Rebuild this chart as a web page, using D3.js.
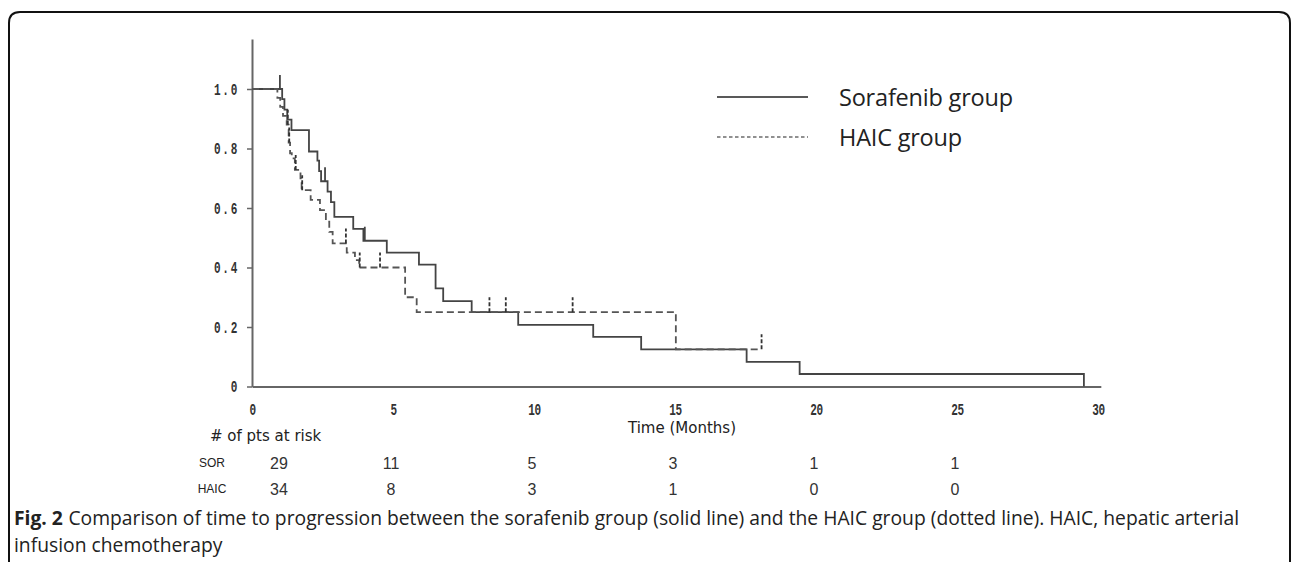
<!DOCTYPE html>
<html><head><meta charset="utf-8">
<script src="https://cdn.jsdelivr.net/npm/d3@7"></script>
<style>body{margin:0;background:#fff} svg{display:block}</style>
</head><body>
<svg id="c" width="1293" height="565"></svg>
<script>
// ---- data ----
const sorTimes = [0, 1.07, 1.15, 1.25, 1.40, 2.02, 2.32, 2.38, 2.45, 2.68, 2.80, 2.92, 3.59, 3.95, 4.78, 5.92, 6.51, 6.78, 7.79, 9.44, 12.1, 13.8, 17.54, 19.42, 29.5];
const sorSurv  = [1.0, 0.966, 0.931, 0.897, 0.862, 0.79, 0.759, 0.724, 0.69, 0.655, 0.62, 0.57, 0.53, 0.49, 0.45, 0.41, 0.33, 0.287, 0.25, 0.207, 0.167, 0.125, 0.083, 0.042, 0];
const sorEnd = 29.5;
const sorCensor = [0.99, 2.59, 4.0];

const haicTimes = [0, 0.90, 1.00, 1.10, 1.23, 1.30, 1.35, 1.41, 1.52, 1.72, 1.76, 2.08, 2.41, 2.62, 2.74, 2.86, 3.36, 3.65, 3.80, 5.43, 5.84, 15.03];
const haicSurv  = [1.0, 0.97, 0.94, 0.91, 0.88, 0.82, 0.784, 0.767, 0.728, 0.70, 0.66, 0.627, 0.593, 0.554, 0.52, 0.481, 0.45, 0.425, 0.40, 0.30, 0.25, 0.125];
const haicEnd = 18.07;
const haicCensor = [1.27, 1.32, 1.55, 1.78, 3.33, 3.82, 4.54, 8.42, 9.0, 11.37, 18.07];

const xTicks = [0, 5, 10, 15, 20, 25, 30];
const yTicks = [0, 0.2, 0.4, 0.6, 0.8, 1.0];
const riskTimes = [0, 5, 10, 15, 20, 25];
const riskSOR  = [29, 11, 5, 3, 1, 1];
const riskHAIC = [34, 8, 3, 1, 0, 0];
const legendLabels = ["Sorafenib group", "HAIC group"];
const xTitle = "Time (Months)";
const riskTitle = "# of pts at risk";
const captionBold = "Fig. 2";
const captionLine1 = "Comparison of time to progression between the sorafenib group (solid line) and the HAIC group (dotted line). HAIC, hepatic arterial";
const captionLine2 = "infusion chemotherapy";

// ---- layout ----
const svg = d3.select("#c");
const x = d3.scaleLinear().domain([0, 30]).range([252, 1098]);
const y = d3.scaleLinear().domain([0, 1]).range([386.5, 89]);
const yTop = 1.168, xEnd = 30.1;
const tickFont = "'Liberation Mono','DejaVu Sans Mono',monospace";
const sx = 0.85, sy = 1.3;

// figure border (open at bottom)
svg.append("path")
  .attr("d", "M9,562 V23 Q9,12 20,12 H1279 Q1290,12 1290,23 V562")
  .attr("fill", "none").attr("stroke", "#111").attr("stroke-width", 2);

// axes
const yAxisScale = d3.scaleLinear().domain([0, yTop]).range([y(0), y(yTop)]);
const gy = svg.append("g").attr("transform", `translate(${x(0)},0)`)
  .call(d3.axisLeft(yAxisScale).tickValues(yTicks).tickSize(5).tickSizeOuter(0).tickPadding(8)
    .tickFormat(d => d === 0 ? "0" : d3.format(".1f")(d)));
gy.select(".domain").attr("stroke", "#666").attr("stroke-width", 2);
gy.selectAll(".tick line").attr("stroke", "#666").attr("stroke-width", 1.5);
gy.selectAll(".tick text").attr("font-family", tickFont).attr("font-weight", "bold")
  .attr("font-size", 13).attr("fill", "#333").attr("letter-spacing", 2)
  .attr("x", -13 / sx).attr("dy", "0.3em").attr("transform", `scale(${sx},${sy})`);

const xAxisScale = d3.scaleLinear().domain([0, xEnd]).range([x(0), x(xEnd)]);
const gx = svg.append("g").attr("transform", `translate(0,${y(0)})`)
  .call(d3.axisBottom(xAxisScale).tickValues(xTicks).tickSize(0).tickSizeOuter(0));
gx.select(".domain").attr("stroke", "#666").attr("stroke-width", 2);
gx.selectAll(".tick text").attr("font-family", tickFont).attr("font-weight", "bold")
  .attr("font-size", 13).attr("fill", "#333").attr("letter-spacing", -0.5)
  .attr("y", 12.8).attr("transform", `scale(${sx},${sy})`);

// step curves
function stepPoints(times, surv, end) {
  const pts = [];
  for (let i = 0; i < times.length; i++) {
    if (i > 0) pts.push([times[i], surv[i - 1]]);
    pts.push([times[i], surv[i]]);
  }
  const last = surv[surv.length - 1];
  if (end > times[times.length - 1]) pts.push([end, last]);
  return pts;
}
function survAt(times, surv, t) {
  let s = surv[0];
  for (let i = 0; i < times.length; i++) if (times[i] <= t) s = surv[i];
  return s;
}
const line = d3.line().x(d => x(d[0])).y(d => y(d[1]));

svg.append("path").datum(stepPoints(sorTimes, sorSurv, sorEnd))
  .attr("d", line).attr("fill", "none").attr("stroke", "#444").attr("stroke-width", 1.8);
svg.append("path").datum(stepPoints(haicTimes, haicSurv, haicEnd))
  .attr("d", line).attr("fill", "none").attr("stroke", "#555").attr("stroke-width", 1.8)
  .attr("stroke-dasharray", "7,4");

// censor marks
svg.selectAll(".cs").data(sorCensor).enter().append("line")
  .attr("x1", d => x(d)).attr("x2", d => x(d))
  .attr("y1", d => y(survAt(sorTimes, sorSurv, d))).attr("y2", d => y(survAt(sorTimes, sorSurv, d)) - 14)
  .attr("stroke", "#444").attr("stroke-width", 1.8);
svg.selectAll(".ch").data(haicCensor).enter().append("line")
  .attr("x1", d => x(d)).attr("x2", d => x(d))
  .attr("y1", d => y(survAt(haicTimes, haicSurv, d))).attr("y2", d => y(survAt(haicTimes, haicSurv, d)) - 15)
  .attr("stroke", "#333").attr("stroke-width", 1.8).attr("stroke-dasharray", "4,2");

// legend
const lg = svg.append("g");
[0, 1].forEach(i => {
  const ly = 97 + i * 40;
  lg.append("line").attr("x1", 717).attr("x2", 808).attr("y1", ly).attr("y2", ly)
    .attr("stroke", "#222").attr("stroke-width", i === 0 ? 1.5 : 1.2)
    .attr("stroke-dasharray", i === 0 ? null : "3.5,2.5");
  lg.append("text").attr("x", 839).attr("y", ly + 1).attr("dy", "0.35em")
    .attr("font-family", "'Open Sans',sans-serif").attr("font-size", 23.5)
    .attr("letter-spacing", -0.2).attr("fill", "#222").text(legendLabels[i]);
});

// x title
svg.append("text").attr("x", 682).attr("y", 428).attr("dy", "0.35em").attr("text-anchor", "middle")
  .attr("font-family", "'DejaVu Sans',sans-serif").attr("font-size", 15).attr("fill", "#222").text(xTitle);

// risk table
svg.append("text").attr("x", 210).attr("y", 436).attr("dy", "0.35em")
  .attr("font-family", "'DejaVu Sans',sans-serif").attr("font-size", 15).attr("fill", "#222").text(riskTitle);
const rows = [["SOR", riskSOR, 463], ["HAIC", riskHAIC, 489]];
rows.forEach(([lab, vals, ry]) => {
  svg.append("text").attr("x", 212).attr("y", ry).attr("dy", "0.35em").attr("text-anchor", "middle")
    .attr("font-family", "'Liberation Sans',sans-serif").attr("font-size", 12).attr("fill", "#222").text(lab);
  svg.selectAll(null).data(vals).enter().append("text")
    .attr("x", (d, i) => riskTimes[i] === 0 ? x(0) + 27 : x(riskTimes[i]) - 2)
    .attr("y", ry).attr("dy", "0.35em").attr("text-anchor", "middle")
    .attr("font-family", "'Liberation Sans',sans-serif").attr("font-size", 16).attr("fill", "#333")
    .text(d => d);
});

// caption
const capFont = "'Open Sans',sans-serif", capSize = 19.3;
const capBold = svg.append("text").attr("x", 14).attr("y", 525)
  .attr("font-family", capFont).attr("font-size", capSize).attr("font-weight", "bold")
  .attr("fill", "#222").text(captionBold);
const bw = capBold.node().getComputedTextLength();
svg.append("text").attr("x", 14 + bw + 5.5).attr("y", 525)
  .attr("font-family", capFont).attr("font-size", capSize).attr("fill", "#222").text(captionLine1);
svg.append("text").attr("x", 14).attr("y", 551.5)
  .attr("font-family", capFont).attr("font-size", capSize).attr("fill", "#222").text(captionLine2);
</script>
</body></html>
